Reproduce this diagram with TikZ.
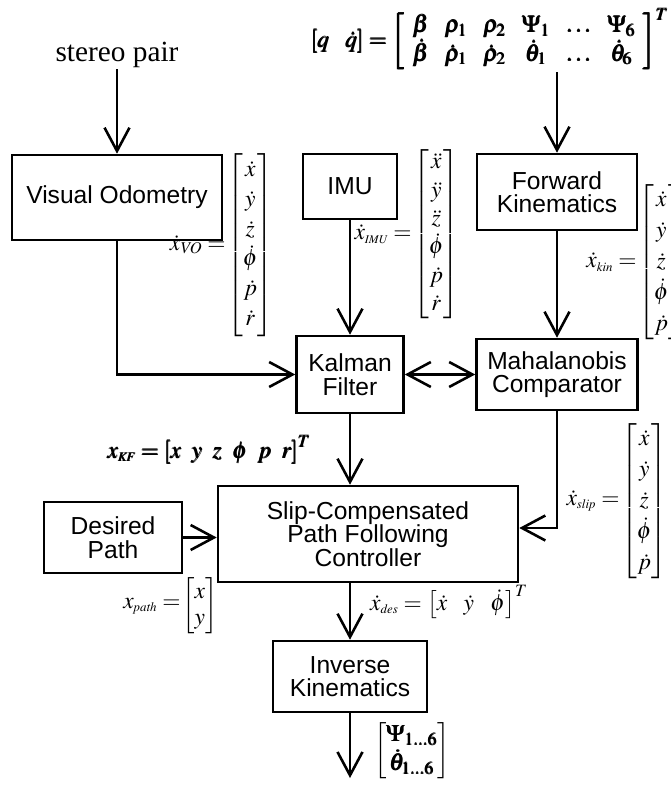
\documentclass[tikz,border=0pt]{standalone}
\usepackage{amsmath}
\usepackage{mathptmx}
\usepackage[no-math]{fontspec}
\setmainfont{Liberation Sans}
\newfontfamily\serifrm{Liberation Serif}
\usetikzlibrary{arrows.meta,positioning,calc}
% small italic subscripts
\newcommand{\subs}[2][11]{_{\mbox{\fontsize{#1}{#1}\selectfont$\mathit{#2}$}}}
\tikzset{
  block/.style={draw, line width=2.2pt, align=center, inner sep=0pt,
    font=\fontsize{21}{20}\selectfont},
  flow/.style={line width=2.2pt, -{Straight Barb[length=7mm,width=7.5mm]}},
  flowboth/.style={line width=2.2pt,
    {Straight Barb[length=7mm,width=7.5mm]}-{Straight Barb[length=7mm,width=7.5mm]}},
  vec/.style={inner sep=0pt, anchor=west, font=\fontsize{20}{22}\selectfont},
  veclabel/.style={inner sep=1pt, anchor=east, font=\fontsize{20}{22}\selectfont}
}
\begin{document}
\begin{tikzpicture}[x=0.03cm,y=-0.03cm]
\useasboundingbox (0,0) rectangle (670,786);
% blocks
\node[block, minimum width=6.3cm, minimum height=2.55cm] (vo) at (117,197.5) {Visual Odometry};
\node[block, minimum width=2.82cm, minimum height=1.95cm] (imu) at (350,186.5) {IMU};
\node[block, minimum width=4.8cm, minimum height=2.28cm] (fk) at (557,192) {Forward\\Kinematics};
\node[block, minimum width=3.21cm, minimum height=2.31cm] (kf) at (350,374.5) {Kalman\\Filter};
\node[block, minimum width=4.83cm, minimum height=2.13cm] (mc) at (557,374.5) {Mahalanobis\\Comparator};
\node[block, minimum width=4.14cm, minimum height=2.13cm] (dp) at (113,537.5) {Desired\\Path};
\node[block, minimum width=9cm, minimum height=2.88cm] (sc) at (368,534) {Slip-Compensated\\Path Following\\Controller};
\node[block, minimum width=4.62cm, minimum height=2.13cm] (ik) at (350,676.5) {Inverse\\Kinematics};
% inputs and outputs
\node[inner sep=1pt, font=\serifrm\fontsize{25}{28}\selectfont] (stereo) at (117,55) {stereo pair};
\node[vec, anchor=center, inner sep=2pt] (qeq) at (490,39) {$\pmb{\left[q\hspace{14pt} \dot q\right]=
  \renewcommand{\arraystretch}{0.9}\setlength{\arraycolsep}{7pt}
  \left[\begin{array}{cccccc}\beta&\rho_1&\rho_2&\Psi_1&\ldots&\Psi_6\\
  \dot\beta&\dot\rho_1&\dot\rho_2&\dot\theta_1&\ldots&\dot\theta_6\end{array}\right]^T}$};
\coordinate (out) at (350,778);
% state vectors
\node[vec] (vovec) at (227,245) {$\renewcommand{\arraystretch}{1.15}
  \begin{bmatrix}\dot x\\ \dot y\\ \dot z\\ \dot\phi\\ \dot p\\ \dot r\end{bmatrix}$};
\node[veclabel] (volab) at (vovec.west) {$\dot x\subs[14]{VO}=$};
\node[vec] (imuvec) at (413,234) {$\renewcommand{\arraystretch}{1.1}
  \begin{bmatrix}\ddot x\\ \ddot y\\ \ddot z\\ \dot\phi\\ \dot p\\ \dot r\end{bmatrix}$};
\node[veclabel] (imulab) at (imuvec.west) {$\dot x\subs[10]{IMU}=$};
\node[vec] (kinvec) at (638,262) {$\renewcommand{\arraystretch}{1.2}
  \begin{bmatrix}\dot x\\ \dot y\\ \dot z\\ \dot\phi\\ \dot p\end{bmatrix}$};
\node[veclabel] (kinlab) at (kinvec.west) {$\dot x\subs{kin}=$};
\node[vec] (slipvec) at (621,501) {$\renewcommand{\arraystretch}{1.2}
  \begin{bmatrix}\dot x\\ \dot y\\ \dot z\\ \dot\phi\\ \dot p\end{bmatrix}$};
\node[veclabel] (sliplab) at (slipvec.west) {$\dot x\subs{slip}=$};
\node[vec] (pathvec) at (182,606) {$\begin{bmatrix}x\\ y\end{bmatrix}$};
\node[veclabel] (pathlab) at (pathvec.west) {$x\subs{path}=$};
\node[vec] (kfeq) at (108,450) {$\pmb{x\subs{KF}=\left[x\hspace{9pt} y\hspace{9pt} z\hspace{9pt} \phi\hspace{9pt} p\hspace{9pt} r\right]^T}$};
\node[vec] (deseq) at (370,602) {$\dot x\subs{des}=\left[\dot x\hspace{14pt} \dot y\hspace{14pt} \dot\phi\right]^T$};
\node[vec] (ikvec) at (374,751) {$\begin{bmatrix}\pmb{\Psi_{1\ldots6}}\\ \pmb{\dot\theta_{1\ldots6}}\end{bmatrix}$};
% connectors
\draw[flow] (stereo.south) -- (vo.north);
\draw[flow] (qeq.south -| fk.north) -- (fk.north);
\draw[flow] (imu.south) -- (kf.north);
\draw[flow] (fk.south) -- (mc.north);
\draw[flow] (vo.south) |- (kf.west);
\draw[flowboth] (kf.east) -- (mc.west);
\draw[flow] (kf.south) -- (kf.south |- sc.north);
\draw[flow] (mc.south) |- ([yshift=0.18cm]sc.east);
\draw[flow] (dp.east) -- (dp.east -| sc.west);
\draw[flow] (ik.north |- sc.south) -- (ik.north);
\draw[flow] (ik.south) -- (out);
\end{tikzpicture}
\end{document}
